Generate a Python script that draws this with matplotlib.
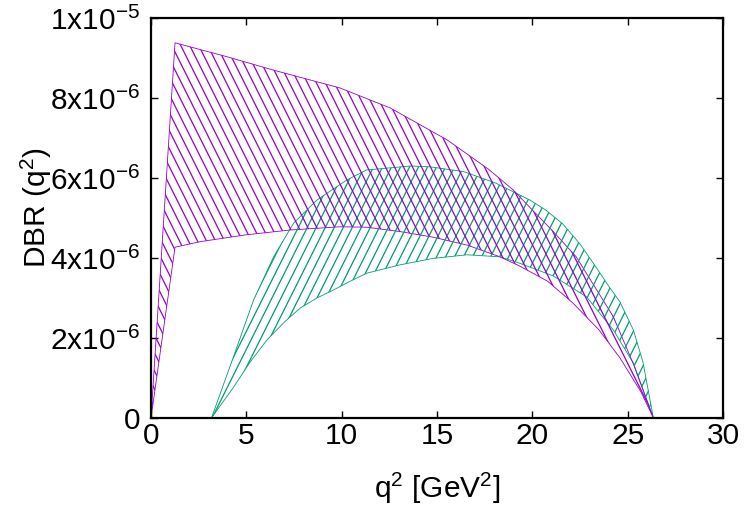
import numpy as np
import matplotlib
matplotlib.use("Agg")
import matplotlib.pyplot as plt
from matplotlib.collections import LineCollection

plt.rcParams['font.family'] = ['Liberation Sans', 'DejaVu Sans']
plt.rcParams['mathtext.fontset'] = 'custom'
plt.rcParams['mathtext.rm'] = 'Liberation Sans'
plt.rcParams['mathtext.it'] = 'Liberation Sans'

# ---- data (DBR in units of 1e-6) ----
purple_up_q = [0.0, 1.26, 4.0, 6.4, 9.92, 12.55, 15.54, 17.7, 19.0, 19.9, 21.1, 22.3, 24.25, 25.3, 26.35]
purple_up_y = [0.0, 9.38, 9.03, 8.70, 8.25, 7.75, 6.95, 6.22, 5.70, 5.25, 4.66, 4.03, 2.53, 1.35, 0.0]
purple_lo_q = [0.0, 1.26, 2.6, 5.0, 7.3, 9.9, 11.3, 13.07, 14.8, 16.6, 18.3, 19.33, 20.8, 22.14, 23.5, 24.6, 25.7, 26.35]
purple_lo_y = [0.0, 4.27, 4.41, 4.58, 4.70, 4.78, 4.77, 4.66, 4.52, 4.32, 4.03, 3.80, 3.42, 2.87, 2.20, 1.50, 0.65, 0.0]
green_up_q = [3.17, 4.34, 5.38, 6.43, 7.48, 8.7, 10.27, 11.3, 13.6, 14.63, 16.4, 18.1, 19.87, 20.7, 21.6, 22.5, 23.3, 24.0, 24.6, 25.3, 25.8, 26.35]
green_up_y = [0.0, 1.55, 2.95, 4.03, 4.87, 5.45, 5.95, 6.20, 6.30, 6.28, 6.16, 5.87, 5.45, 5.20, 4.85, 4.35, 3.80, 3.30, 2.90, 2.20, 1.40, 0.0]
green_lo_q = [3.17, 4.3, 5.2, 6.08, 7.0, 7.83, 8.7, 9.57, 10.45, 11.32, 13.07, 14.8, 16.57, 18.3, 19.33, 21.1, 22.84, 24.25, 25.3, 26.35]
green_lo_y = [0.0, 0.75, 1.40, 1.95, 2.40, 2.75, 3.00, 3.20, 3.42, 3.62, 3.83, 3.99, 4.08, 4.03, 3.87, 3.55, 3.03, 2.20, 1.37, 0.0]

x_ticks = [0, 5, 10, 15, 20, 25, 30]
y_ticks = [0, 2e-6, 4e-6, 6e-6, 8e-6, 1e-5]
y_tick_labels = ['0', r'$\mathregular{2x10^{-6}}$', r'$\mathregular{4x10^{-6}}$',
                 r'$\mathregular{6x10^{-6}}$', r'$\mathregular{8x10^{-6}}$', r'$\mathregular{1x10^{-5}}$']

PURPLE = '#9400d3'
GREEN = '#009e73'
SCALE = 1e-6

fig = plt.figure(figsize=(7.5, 5.25), dpi=100)
W_px, H_px = 572, 400
ax = fig.add_axes([151/750, 107/525, W_px/750, H_px/525])
ax.set_xlim(0, 30)
ax.set_ylim(0, 1e-5)


def band(qu, yu, ql, yl, color, direction, spacing=9.0, slope=2.0):
    xs = np.concatenate([np.asarray(qu), np.asarray(ql)[::-1]])
    ys = np.concatenate([np.asarray(yu), np.asarray(yl)[::-1]]) * SCALE
    poly = ax.fill(xs, ys, facecolor='none', edgecolor=color, lw=0.6, zorder=2)[0]
    # hatch lines in axes-pixel space, clipped to the band
    segs = []
    run = H_px / slope
    for c in np.arange(-run - spacing, W_px + run + spacing, spacing):
        if direction == 'back':   # "\" : top-left to bottom-right
            p0 = (c, H_px); p1 = (c + run, 0)
        else:                     # "/" : bottom-left to top-right
            p0 = (c, 0); p1 = (c + run, H_px)
        segs.append([(p0[0]/W_px, p0[1]/H_px), (p1[0]/W_px, p1[1]/H_px)])
    lc = LineCollection(segs, colors=color, linewidths=0.9, transform=ax.transAxes, zorder=3)
    ax.add_collection(lc)
    lc.set_clip_path(poly)


band(green_up_q, green_up_y, green_lo_q, green_lo_y, GREEN, 'fwd')
band(purple_up_q, purple_up_y, purple_lo_q, purple_lo_y, PURPLE, 'back')

ax.set_xticks(x_ticks)
ax.set_xticklabels([str(t) for t in x_ticks])
ax.set_yticks(y_ticks)
ax.set_yticklabels(y_tick_labels)
ax.tick_params(direction='in', length=5, width=1, top=True, right=True,
               labelsize=21.5, colors='black')
ax.tick_params(axis='y', pad=8)
ax.tick_params(axis='x', pad=3)
for s in ax.spines.values():
    s.set_linewidth(1.6)

fig.text(437/750, 1 - 488/525, r'q$^\mathregular{2}$ [GeV$^\mathregular{2}$]', ha='center', va='center', fontsize=21.5)
fig.text(36/750, 1 - 208/525, r'DBR (q$^\mathregular{2}$)', ha='center', va='center', rotation=90, fontsize=21.5)

fig.savefig('out.png', dpi=100)
